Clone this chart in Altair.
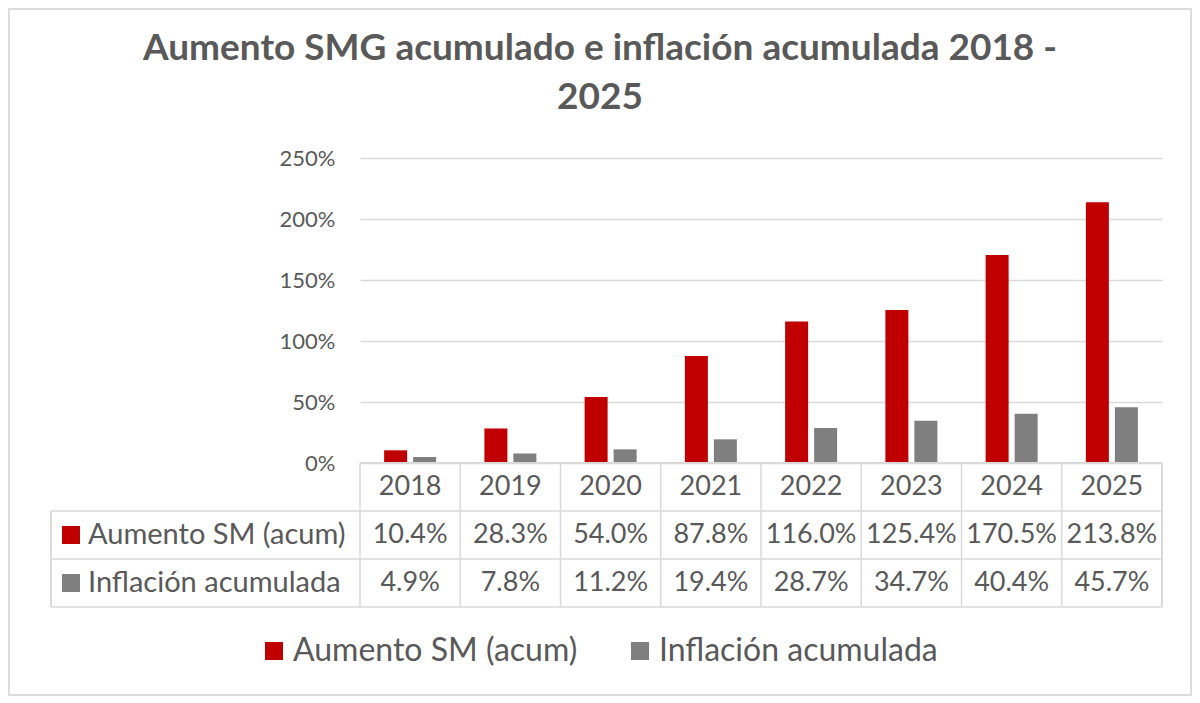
import altair as alt
import pandas as pd

years = ["2018", "2019", "2020", "2021", "2022", "2023", "2024", "2025"]
series_names = ["Aumento SM (acum)", "Inflación acumulada"]
aumento = [0.104, 0.283, 0.540, 0.878, 1.160, 1.254, 1.705, 2.138]
inflacion = [0.049, 0.078, 0.112, 0.194, 0.287, 0.347, 0.404, 0.457]
colors = ["#C00000", "#7F7F7F"]
title_lines = ["Aumento SMG acumulado e inflación acumulada 2018 -", "2025"]

rows = []
for i, y in enumerate(years):
    rows.append({"year": y, "series": series_names[0], "value": aumento[i], "row": 1.5})
    rows.append({"year": y, "series": series_names[1], "value": inflacion[i], "row": 2.5})
df = pd.DataFrame(rows)
labels_df = pd.DataFrame({"series": series_names, "row": [1.5, 2.5]})
years_df = pd.DataFrame({"year": years, "row": [0.5] * len(years)})
hlines_df = pd.DataFrame({"row": [1, 2, 3]})

FONT = "Lato"
TXT = "#595959"
GRID = "#D9D9D9"
W, H, TH = 802, 305, 144

legend = alt.Legend(
    title=None, orient="none", legendX=-102, legendY=477, direction="horizontal",
    symbolType="square", symbolSize=324, symbolStrokeWidth=0, labelFontSize=32,
    labelFont=FONT, labelColor=TXT, columnPadding=46, labelOffset=3, labelLimit=400,
)
color = alt.Color("series:N", scale=alt.Scale(domain=series_names, range=colors), legend=legend)
xscale = alt.Scale(domain=years, paddingInner=0, paddingOuter=0)

bars = alt.Chart(df).mark_bar().encode(
    x=alt.X("year:N", scale=xscale, axis=None),
    xOffset=alt.XOffset("series:N", scale=alt.Scale(domain=series_names, paddingInner=0.207, paddingOuter=0.832)),
    y=alt.Y("value:Q", scale=alt.Scale(domain=[0, 2.5], nice=False),
            axis=alt.Axis(values=[0, 0.5, 1, 1.5, 2, 2.5], format=".0%", title=None,
                          domain=False, ticks=False, labelPadding=25, labelFontSize=22,
                          labelFont=FONT, labelColor=TXT, gridColor=GRID, gridWidth=1.5)),
    color=color,
).properties(
    width=W, height=H,
    title=alt.TitleParams(title_lines, anchor="middle", frame="group", dx=-161, offset=30,
                          fontSize=37, font=FONT, fontWeight="bold", color=TXT, lineHeight=49),
)

yt = alt.Scale(domain=[0, 3], reverse=True, nice=False, zero=False)

hl = alt.Chart(hlines_df).mark_rule(color=GRID, strokeWidth=1.5).encode(
    y=alt.Y("row:Q", scale=yt, axis=None), x=alt.value(-309), x2=alt.value(W))
top = alt.Chart(years_df).mark_rule(color=GRID, strokeWidth=1.5).encode(
    y=alt.Y(datum=0, scale=yt, axis=None), x=alt.value(0), x2=alt.value(W))
vl = alt.Chart(years_df).mark_rule(color=GRID, strokeWidth=1.5).encode(
    x=alt.X("year:N", scale=xscale, bandPosition=0, axis=None), y=alt.value(0), y2=alt.value(TH))
right = alt.Chart(years_df).mark_rule(color=GRID, strokeWidth=1.5).encode(
    x=alt.value(W), y=alt.value(0), y2=alt.value(TH))
leftcol = alt.Chart(labels_df).mark_rule(color=GRID, strokeWidth=1.5).encode(
    x=alt.value(-309), y=alt.Y(datum=1, scale=yt, axis=None), y2=alt.Y2(datum=3))
head = alt.Chart(years_df).mark_text(fontSize=27, font=FONT, color=TXT, baseline="middle").encode(
    x=alt.X("year:N", scale=xscale, axis=None), y=alt.Y("row:Q", scale=yt, axis=None), text="year:N")
vals = alt.Chart(df).mark_text(fontSize=27, font=FONT, color=TXT, baseline="middle").encode(
    x=alt.X("year:N", scale=xscale, axis=None), y=alt.Y("row:Q", scale=yt, axis=None),
    text=alt.Text("value:Q", format=".1%"))
sq = alt.Chart(labels_df).mark_square(size=324, opacity=1, strokeWidth=0).encode(
    x=alt.value(-289), y=alt.Y("row:Q", scale=yt, axis=None), color=color)
lab = alt.Chart(labels_df).mark_text(fontSize=29, font=FONT, color=TXT, align="left", baseline="middle").encode(
    x=alt.value(-272), y=alt.Y("row:Q", scale=yt, axis=None), text="series:N")
border = alt.Chart(labels_df).mark_rect(filled=False, stroke=GRID, strokeWidth=1.5).encode(
    x=alt.value(-351), x2=alt.value(831), y=alt.value(-454), y2=alt.value(232))

table = alt.layer(border, hl, top, vl, right, leftcol, head, vals, sq, lab).properties(width=W, height=TH)

chart = alt.vconcat(bars, table, spacing=0, bounds="flush").resolve_scale(
    x="shared", y="independent", color="shared"
).properties(padding=0).configure_view(strokeWidth=0)

chart.save("out.html", embed_options={"renderer": "svg", "actions": False})
